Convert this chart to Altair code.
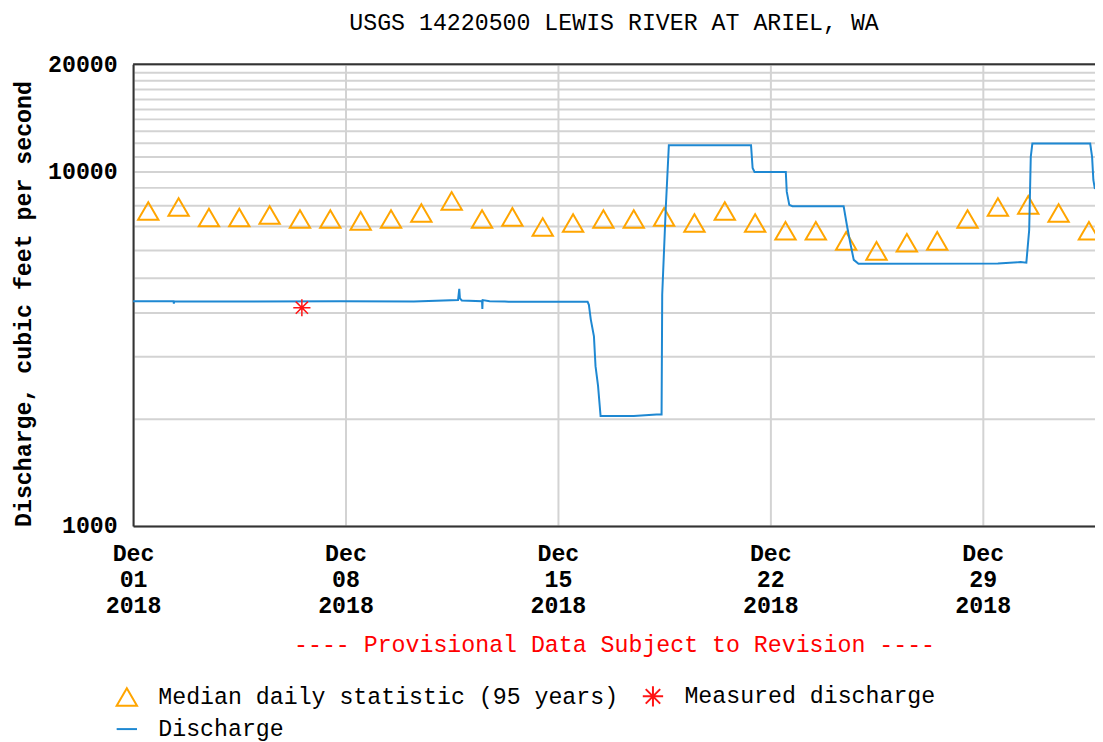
import altair as alt
import pandas as pd

FONT = "Liberation Mono"
FS = 23.4

SERIES = ["Median daily statistic (95 years)", "Discharge", "Measured discharge"]
SERIES_COLORS = ["#FFA500", "#1E88D2", "#FF1414"]
STAR = "M0,-1L0,1M-1,0L1,0M-0.71,-0.71L0.71,0.71M-0.71,0.71L0.71,-0.71"
SERIES_SHAPES = ["triangle-up", "stroke", STAR]

# Discharge (15-minute record, key breakpoints)
discharge_time = [
    "2018-12-01T00:00", "2018-12-02T08:00", "2018-12-02T08:15", "2018-12-02T08:30",
    "2018-12-04T12:00", "2018-12-07T20:00", "2018-12-10T06:00", "2018-12-11T17:00",
    "2018-12-11T18:00", "2018-12-11T18:30", "2018-12-11T20:00", "2018-12-12T12:00",
    "2018-12-12T12:15", "2018-12-12T12:30", "2018-12-12T18:00", "2018-12-13T06:00",
    "2018-12-13T09:00", "2018-12-15T23:30", "2018-12-16T00:30", "2018-12-16T02:00",
    "2018-12-16T04:30", "2018-12-16T05:45", "2018-12-16T07:45", "2018-12-16T09:45",
    "2018-12-17T12:00", "2018-12-18T06:00", "2018-12-18T10:00", "2018-12-18T10:30",
    "2018-12-18T13:15", "2018-12-18T15:45", "2018-12-21T08:45", "2018-12-21T10:00",
    "2018-12-21T11:30", "2018-12-22T12:15", "2018-12-22T13:00", "2018-12-22T15:00",
    "2018-12-22T17:30", "2018-12-24T10:00", "2018-12-24T12:45", "2018-12-24T15:15",
    "2018-12-24T18:00", "2018-12-24T21:45", "2018-12-29T12:00", "2018-12-30T06:00",
    "2018-12-30T10:30", "2018-12-30T12:45", "2018-12-30T14:00", "2018-12-30T15:15",
    "2019-01-01T13:00", "2019-01-01T14:30", "2019-01-01T15:30", "2019-01-01T16:45",
]
discharge_cfs = [
    4300, 4300, 4230, 4300,
    4290, 4300, 4290, 4330,
    4660, 4380, 4320, 4300,
    4090, 4330, 4300, 4290,
    4280, 4280, 4200, 3820,
    3420, 2820, 2480, 2040,
    2040, 2060, 2060, 4480,
    7770, 11830, 11830, 10200,
    9940, 9940, 8750, 8030,
    7960, 7960, 6980, 6270,
    5620, 5480, 5490, 5540,
    5520, 6830, 10970, 11960,
    11960, 10970, 9440, 8900,
]

# Median daily statistic (95 years), one per day at noon
median_date = [f"2018-12-{d:02d}T12:00" for d in range(1, 32)] + ["2019-01-01T12:00"]
median_cfs = [
    7720, 7920, 7400, 7400, 7520, 7330, 7330, 7240, 7330, 7620, 8240,
    7330, 7430, 6960, 7140, 7330, 7330, 7430, 7140, 7720, 7140, 6790,
    6790, 6360, 5960, 6280, 6360, 7330, 7920, 8030, 7620, 6790,
]

# Measured discharge
measured_time = ["2018-12-06T13:30"]
measured_cfs = [4120]

tick_days = [1, 8, 15, 22, 29]
y_grid_values = [1000, 2000, 3000, 4000, 5000, 6000, 7000, 8000, 9000, 10000,
                 11000, 12000, 13000, 14000, 15000, 16000, 17000, 18000, 19000, 20000]

df_dis = pd.DataFrame({"time": discharge_time, "cfs": discharge_cfs, "series": SERIES[1]})
df_med = pd.DataFrame({"time": median_date, "cfs": median_cfs, "series": SERIES[0]})
df_meas = pd.DataFrame({"time": measured_time, "cfs": measured_cfs, "series": SERIES[2]})
df_top = pd.DataFrame({"cfs": [y_grid_values[-1]]})

GRID = "#d3d3d3"
DOMAIN = "#333333"

x_axis = alt.Axis(
    values=[alt.DateTime(year=2018, month=12, date=d) for d in tick_days],
    labelExpr="[timeFormat(datum.value, '%b'), timeFormat(datum.value, '%d'), timeFormat(datum.value, '%Y')]",
    labelFont=FONT, labelFontSize=FS, labelFontWeight="bold", labelColor="black",
    labelLineHeight=26, labelPadding=17, labelFlush=False, labelOverlap=False,
    ticks=False, grid=True, gridColor=GRID, gridWidth=2,
    domainColor=DOMAIN, domainWidth=2,
    title="---- Provisional Data Subject to Revision ----",
    titleColor="#FF0000", titleFont=FONT, titleFontSize=FS, titleFontWeight="normal",
    titlePadding=17,
)
y_axis = alt.Axis(
    values=y_grid_values,
    labelExpr="indexof([1000, 10000, 20000], datum.value) >= 0 ? format(datum.value, 'd') : ''",
    labelFont=FONT, labelFontSize=FS, labelFontWeight="bold", labelColor="black",
    labelPadding=16, labelOverlap=False, labelFlush=False,
    ticks=False, grid=True, gridColor=GRID, gridWidth=2,
    domainColor=DOMAIN, domainWidth=2,
    title="Discharge, cubic feet per second",
    titleFont=FONT, titleFontSize=FS, titleFontWeight="bold", titleColor="black",
    titleAngle=270, titleX=-110, titleY=241, titleAlign="center", titleBaseline="middle",
)

x_enc = alt.X("time:T", scale=alt.Scale(domain=[
    alt.DateTime(year=2018, month=12, date=1, hours=0),
    alt.DateTime(year=2019, month=1, date=1, hours=16, minutes=48)]), axis=x_axis)
y_enc = alt.Y("cfs:Q", scale=alt.Scale(type="log", domain=[1000, 20000], nice=False), axis=y_axis)

legend = alt.Legend(
    title=None, orient="none", legendX=-18, legendY=625, columns=2,
    columnPadding=20, rowPadding=6, symbolSize=420, symbolStrokeWidth=2,
    labelFont=FONT, labelFontSize=FS, labelColor="black", labelLimit=1000, labelOffset=20,
)
color_enc = alt.Color("series:N", scale=alt.Scale(domain=SERIES, range=SERIES_COLORS), legend=legend)
shape_enc = alt.Shape("series:N", scale=alt.Scale(domain=SERIES, range=SERIES_SHAPES), legend=legend)

med = alt.Chart(df_med).mark_point(filled=False, size=420, strokeWidth=2, opacity=1).encode(
    x=x_enc, y=y_enc, color=color_enc, shape=shape_enc)
line = alt.Chart(df_dis).mark_line(strokeWidth=2, clip=True).encode(
    x=x_enc, y=y_enc, color=color_enc)
meas = alt.Chart(df_meas).mark_point(filled=False, size=300, strokeWidth=1.5, opacity=1).encode(
    x=x_enc, y=y_enc, color=color_enc, shape=shape_enc)
top = alt.Chart(df_top).mark_rule(color=DOMAIN, strokeWidth=2).encode(y=y_enc)

chart = alt.layer(med, line, meas, top).properties(
    width=969, height=465,
    title=alt.TitleParams(
        text="USGS 14220500 LEWIS RIVER AT ARIEL, WA", font=FONT, fontSize=FS,
        fontWeight="normal", color="black", anchor="middle", offset=17,
    ),
    autosize=alt.AutoSizeParams(type="none"),
    padding={"left": 126, "top": 54, "right": 0, "bottom": 215},
).configure_view(stroke=None).configure(background="white")

chart.save("out.html", embed_options={"renderer": "svg", "actions": False})
